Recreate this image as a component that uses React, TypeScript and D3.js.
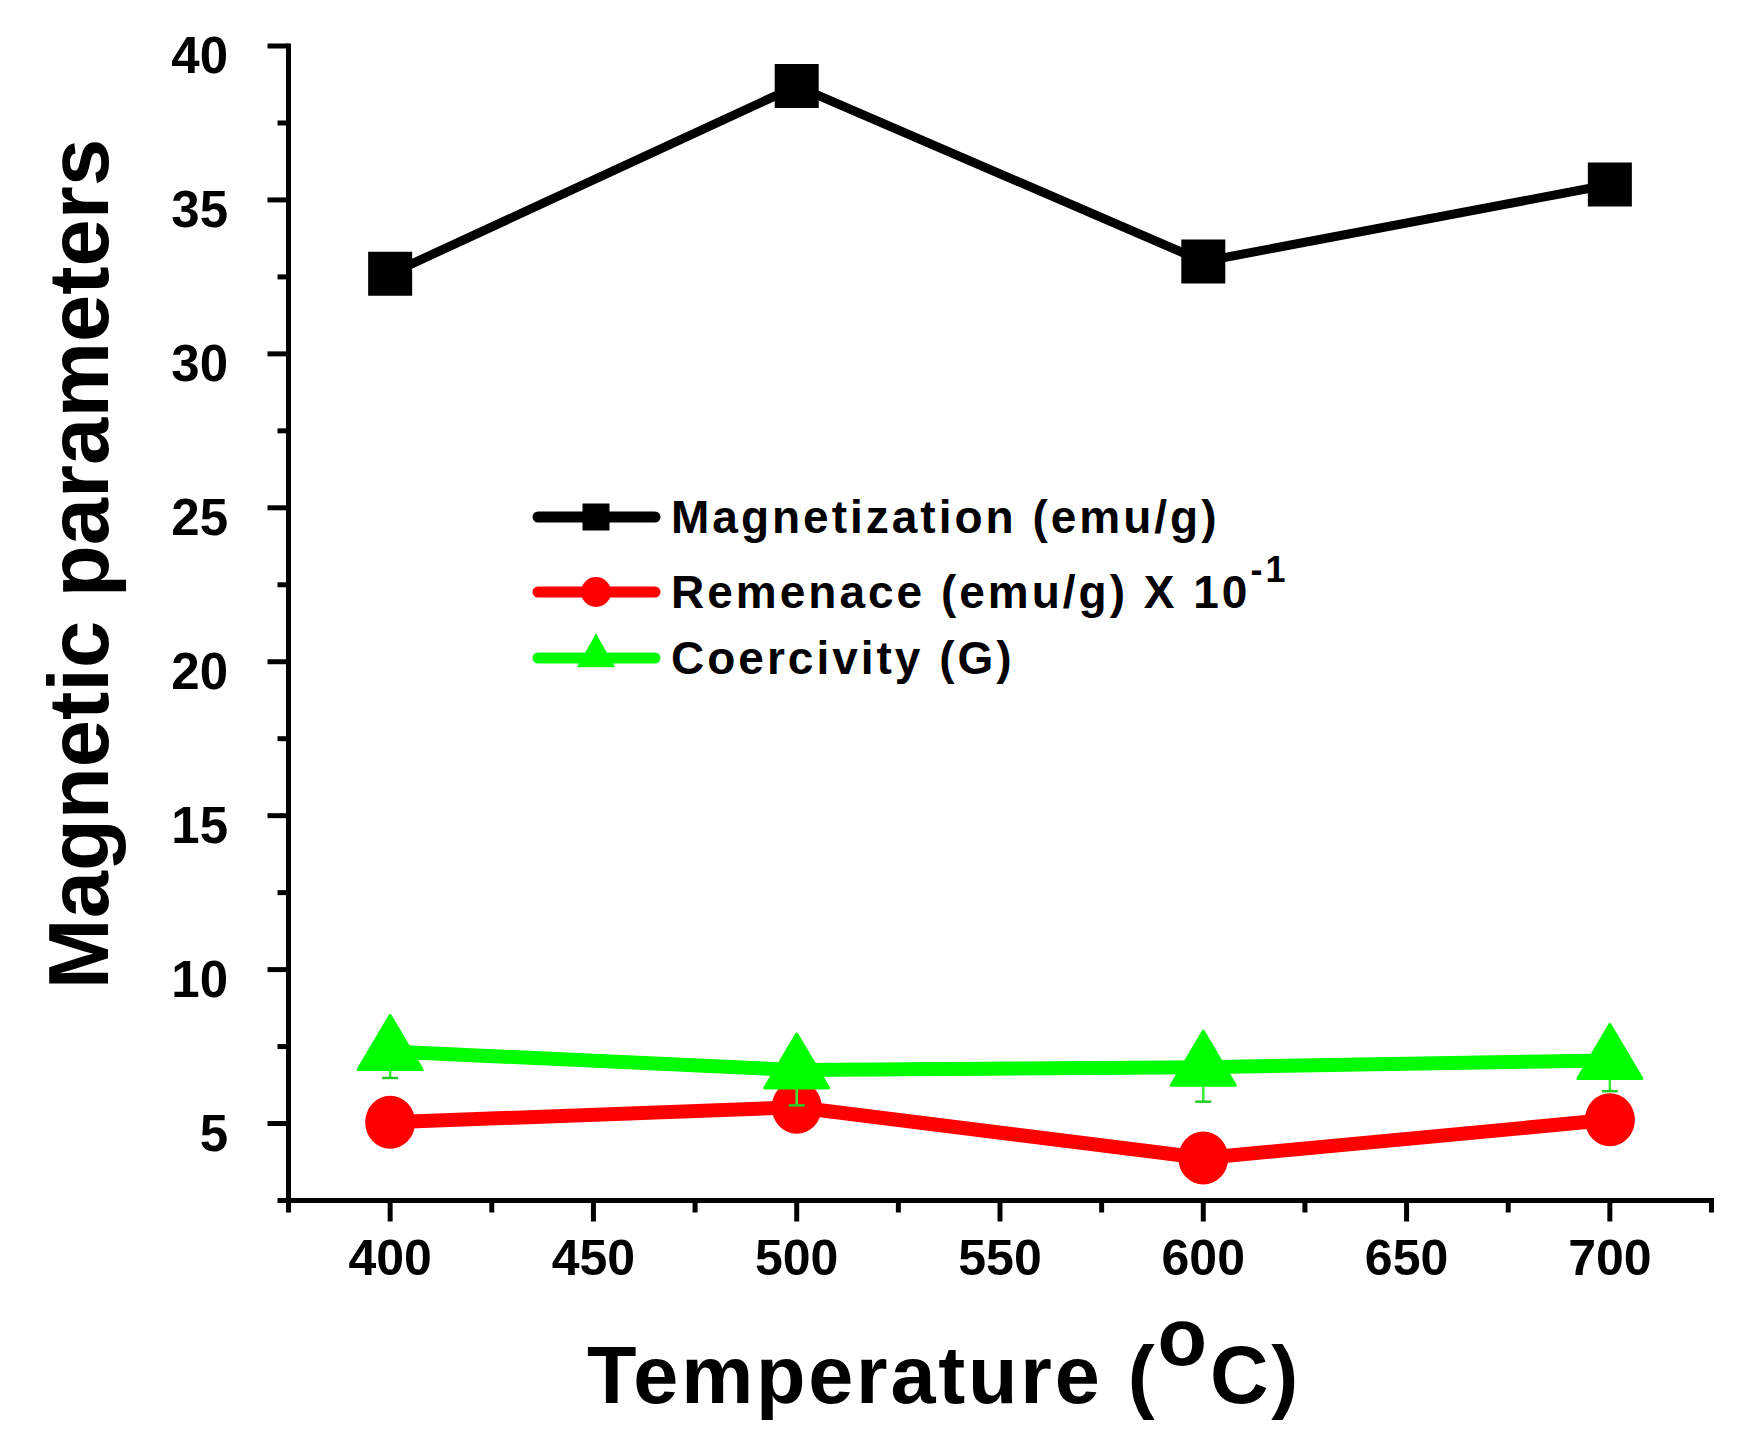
import React, { useEffect, useRef } from 'react';
import * as d3 from 'd3';

// Temperature (°C)
const temperatures = [400, 500, 600, 700];
// series values
const magnetization = [32.6, 38.7, 33.0, 35.5];
const remanence = [5.04, 5.53, 3.88, 5.12];
const coercivity = [7.34, 6.74, 6.83, 7.05];
const coercivityErr = [0.86, 1.15, 1.12, 1.0];

const xMajorTicks = [400, 450, 500, 550, 600, 650, 700];
const xMinorTicks = [375, 425, 475, 525, 575, 625, 675, 725];
const yMajorTicks = [5, 10, 15, 20, 25, 30, 35, 40];
const yMinorTicks = [2.5, 7.5, 12.5, 17.5, 22.5, 27.5, 32.5, 37.5];

const legendLabels = ['Magnetization (emu/g)', 'Remenace (emu/g) X 10', 'Coercivity (G)'];

const FONT = '"Liberation Sans", Arial, Helvetica, sans-serif';

const App: React.FC = () => {
  const svgRef = useRef<SVGSVGElement>(null);

  useEffect(() => {
    document.body.style.margin = '0';
    if (!svgRef.current) return;

    const svg = d3.select(svgRef.current);
    svg.selectAll('*').remove();

    const x = d3.scaleLinear().domain([375, 725]).range([288.5, 1711.5]);
    const y = d3.scaleLinear().domain([2.5, 40]).range([1200.5, 46]);

    const g = svg.append('g');

    // axes
    const axisColor = '#000';
    const axisW = 5;

    g.append('line')
      .attr('x1', x(375)).attr('x2', x(375))
      .attr('y1', y(40) - axisW / 2).attr('y2', y(2.5) + axisW / 2)
      .attr('stroke', axisColor).attr('stroke-width', axisW);
    g.append('line')
      .attr('x1', x(375) - axisW / 2).attr('x2', x(725) + axisW / 2)
      .attr('y1', y(2.5)).attr('y2', y(2.5))
      .attr('stroke', axisColor).attr('stroke-width', axisW);

    g.selectAll('.ymaj').data(yMajorTicks).join('line')
      .attr('x1', x(375) - 21).attr('x2', x(375))
      .attr('y1', d => y(d)).attr('y2', d => y(d))
      .attr('stroke', axisColor).attr('stroke-width', axisW);
    g.selectAll('.ymin').data(yMinorTicks).join('line')
      .attr('x1', x(375) - 11).attr('x2', x(375))
      .attr('y1', d => y(d)).attr('y2', d => y(d))
      .attr('stroke', axisColor).attr('stroke-width', axisW);
    g.selectAll('.xmaj').data(xMajorTicks).join('line')
      .attr('x1', d => x(d)).attr('x2', d => x(d))
      .attr('y1', y(2.5)).attr('y2', y(2.5) + 21)
      .attr('stroke', axisColor).attr('stroke-width', axisW);
    g.selectAll('.xmin').data(xMinorTicks).join('line')
      .attr('x1', d => x(d)).attr('x2', d => x(d))
      .attr('y1', y(2.5)).attr('y2', y(2.5) + 12)
      .attr('stroke', axisColor).attr('stroke-width', axisW);

    // tick labels
    g.selectAll('.ylab').data(yMajorTicks).join('text')
      .attr('x', 228)
      .attr('y', d => y(d) + 27)
      .attr('text-anchor', 'end')
      .style('font-family', FONT)
      .style('font-weight', 'bold')
      .style('font-size', '51px')
      .text(d => d);
    g.selectAll('.xlab').data(xMajorTicks).join('text')
      .attr('x', d => x(d))
      .attr('y', 1275)
      .attr('text-anchor', 'middle')
      .style('font-family', FONT)
      .style('font-weight', 'bold')
      .style('font-size', '50px')
      .text(d => d);

    // axis titles
    g.append('text')
      .attr('transform', `translate(108, 564) rotate(-90)`)
      .attr('text-anchor', 'middle')
      .style('font-family', FONT)
      .style('font-weight', 'bold')
      .style('font-size', '85px')
      .text('Magnetic parameters');

    const xt = g.append('text')
      .attr('x', 944)
      .attr('y', 1403)
      .attr('text-anchor', 'middle')
      .style('font-family', FONT)
      .style('font-weight', 'bold')
      .style('font-size', '81px')
      .style('letter-spacing', '2.8px');
    xt.append('tspan').text('Temperature (');
    xt.append('tspan').attr('dy', -38).text('o');
    xt.append('tspan').attr('dy', 38).text('C)');

    const line = d3.line<number>()
      .x((_, i) => x(temperatures[i]))
      .y(d => y(d));

    const squarePath = (s: number) => `M${-s / 2},${-s / 2}h${s}v${s}h${-s}Z`;
    const trianglePath = (w: number, h: number) =>
      `M0,${(-2 * h) / 3}L${w / 2},${h / 3}L${-w / 2},${h / 3}Z`;

    // magnetization
    g.append('path').datum(magnetization)
      .attr('d', line).attr('fill', 'none')
      .attr('stroke', '#000').attr('stroke-width', 9)
      .attr('stroke-linejoin', 'round');
    g.selectAll('.mag').data(magnetization).join('path')
      .attr('transform', (d, i) => `translate(${x(temperatures[i])},${y(d)})`)
      .attr('d', squarePath(44))
      .attr('fill', '#000');

    // remanence
    g.append('path').datum(remanence)
      .attr('d', line).attr('fill', 'none')
      .attr('stroke', '#ff0000').attr('stroke-width', 14)
      .attr('stroke-linejoin', 'round');
    g.selectAll('.rem').data(remanence).join('ellipse')
      .attr('cx', (_, i) => x(temperatures[i]))
      .attr('cy', d => y(d))
      .attr('rx', 25).attr('ry', 26.5)
      .attr('fill', '#ff0000');

    // coercivity
    g.append('path').datum(coercivity)
      .attr('d', line).attr('fill', 'none')
      .attr('stroke', '#00ff00').attr('stroke-width', 14)
      .attr('stroke-linejoin', 'round');
    const eb = g.selectAll('.err').data(coercivity).join('g')
      .attr('transform', (_, i) => `translate(${x(temperatures[i])},0)`);
    eb.append('line')
      .attr('y1', (d, i) => y(d + coercivityErr[i]))
      .attr('y2', (d, i) => y(d - coercivityErr[i]))
      .attr('stroke', '#33ee33').attr('stroke-width', 2.5);
    eb.append('line')
      .attr('x1', -8).attr('x2', 8)
      .attr('y1', (d, i) => y(d - coercivityErr[i]))
      .attr('y2', (d, i) => y(d - coercivityErr[i]))
      .attr('stroke', '#22cc22').attr('stroke-width', 2.5);
    g.selectAll('.coe').data(coercivity).join('path')
      .attr('transform', (d, i) => `translate(${x(temperatures[i])},${y(d)})`)
      .attr('d', trianglePath(64, 54))
      .attr('fill', '#00ff00')
      .attr('stroke', '#00ff00').attr('stroke-width', 3)
      .attr('stroke-linejoin', 'round');

    // legend
    const legendColors = ['#000', '#ff0000', '#00ff00'];
    const legendY = [517, 592, 658];
    const lg = g.append('g');
    legendLabels.forEach((label, i) => {
      const row = lg.append('g').attr('transform', `translate(0,${legendY[i]})`);
      row.append('line')
        .attr('x1', 538).attr('x2', 655)
        .attr('stroke', legendColors[i]).attr('stroke-width', 11)
        .attr('stroke-linecap', 'round');
      if (i === 0) {
        row.append('path').attr('transform', 'translate(596,0)')
          .attr('d', squarePath(27)).attr('fill', '#000');
      } else if (i === 1) {
        row.append('circle').attr('cx', 596).attr('r', 15).attr('fill', '#ff0000');
      } else {
        row.append('path').attr('transform', 'translate(596,-2)')
          .attr('d', trianglePath(38, 34)).attr('fill', '#00ff00');
      }
      const t = row.append('text')
        .attr('x', 671).attr('y', 16)
        .style('font-family', FONT)
        .style('font-weight', 'bold')
        .style('font-size', '46px')
        .style('letter-spacing', '3px')
        .text(label);
      if (i === 1) {
        t.append('tspan').attr('dy', -26).style('font-size', '36px').text('-1');
      }
    });
  }, []);

  return (
    <svg
      ref={svgRef}
      width={1744}
      height={1450}
      viewBox="0 0 1744 1450"
      style={{ display: 'block', background: '#fff' }}
    />
  );
};

export default App;
